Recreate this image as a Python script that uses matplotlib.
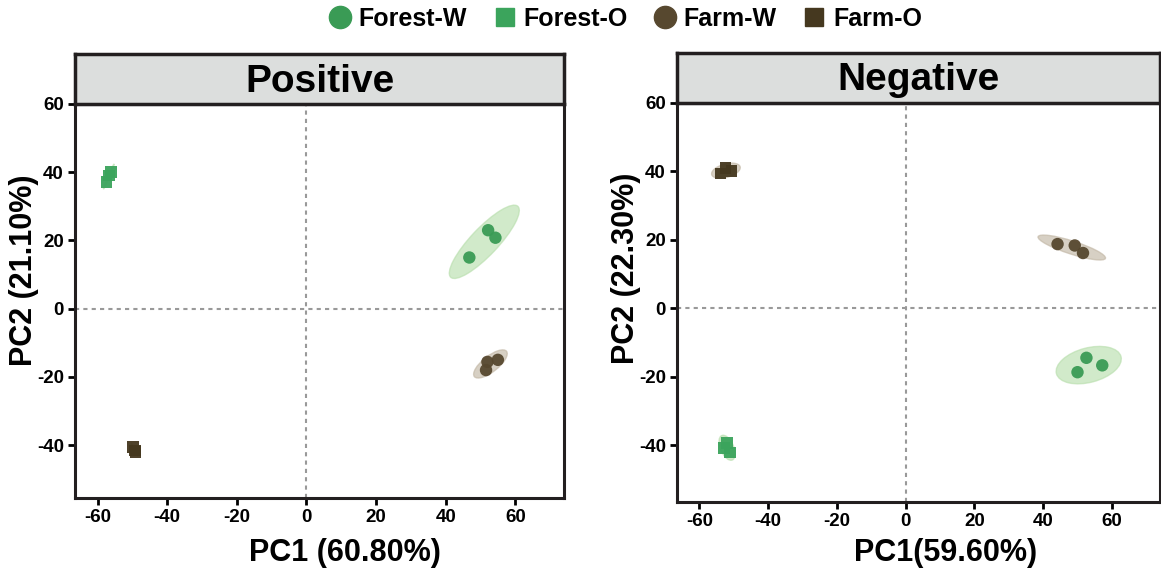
import numpy as np
import matplotlib.pyplot as plt
from matplotlib.patches import Ellipse
from matplotlib.lines import Line2D

plt.rcParams['font.family'] = ['Liberation Sans', 'DejaVu Sans']
plt.rcParams['font.weight'] = 'bold'
plt.rcParams['axes.unicode_minus'] = False

groups = ["Forest-W", "Forest-O", "Farm-W", "Farm-O"]
markers = ["o", "s", "o", "s"]
colors = ["#3a9b55", "#3ba45c", "#57482f", "#45381f"]
fill_colors = ["#b9dfae", "#b9dfae", "#c2b7a5", "#c2b7a5"]

# PCA scores (PC1, PC2), three samples per group
pos_x = {"Forest-W": [46.8, 52.2, 54.3],
         "Forest-O": [-57.4, -56.8, -56.2],
         "Farm-W": [52.0, 51.6, 55.0],
         "Farm-O": [-49.8, -49.3, -49.1]}
pos_y = {"Forest-W": [15.0, 23.0, 20.8],
         "Forest-O": [37.2, 39.0, 40.0],
         "Farm-W": [-15.6, -18.0, -15.0],
         "Farm-O": [-40.6, -41.6, -42.0]}
neg_x = {"Forest-W": [52.6, 57.2, 50.0],
         "Forest-O": [-52.0, -52.8, -51.0],
         "Farm-W": [44.2, 49.2, 51.6],
         "Farm-O": [-53.8, -50.6, -52.4]}
neg_y = {"Forest-W": [-14.4, -16.6, -18.6],
         "Forest-O": [-39.2, -40.8, -42.0],
         "Farm-W": [18.8, 18.4, 16.2],
         "Farm-O": [39.4, 40.2, 41.1]}

panels = ["Positive", "Negative"]
xlabels = ["PC1 (60.80%)", "PC1(59.60%)"]
ylabels = ["PC2 (21.10%)", "PC2 (22.30%)"]
ticks = [-60, -40, -20, 0, 20, 40, 60]
yticks = [-40, -20, 0, 20, 40, 60]


def conf_ellipse(ax, x, y, n_std, fc):
    x = np.asarray(x)
    y = np.asarray(y)
    cov = np.cov(x, y)
    vals, vecs = np.linalg.eigh(cov)
    order = vals.argsort()[::-1]
    vals, vecs = vals[order], vecs[:, order]
    angle = np.degrees(np.arctan2(vecs[1, 0], vecs[0, 0]))
    w, h = 2 * n_std * np.sqrt(vals)
    e = Ellipse((x.mean(), y.mean()), w, h, angle=angle, facecolor=fc,
                edgecolor=fc, alpha=0.65, lw=1, zorder=2)
    ax.add_patch(e)


fig = plt.figure(figsize=(11.61, 5.77), dpi=100)
W, H = 1161, 577
boxes = [(75, 564, 104, 498, 54), (677, 1160, 103, 502, 53)]
data = [(pos_x, pos_y), (neg_x, neg_y)]
# label anchors in pixels: y label right edge / x label top edge
ylab_pos = [(39, 270), (641, 268)]
xlab_pos = [(345, 538), (946, 538)]

for i in range(2):
    l, r, t, b, ht = boxes[i]
    ax = fig.add_axes([l / W, 1 - b / H, (r - l) / W, (b - t) / H])
    hx = fig.add_axes([l / W, 1 - t / H, (r - l) / W, (t - ht) / H])
    hx.set_facecolor("#dcdedd")
    hx.set_xticks([])
    hx.set_yticks([])
    for s in hx.spines.values():
        s.set_linewidth(2.5)
        s.set_color("#231f20")
    hx.text(0.5, 0.45, panels[i], ha="center", va="center", fontsize=28,
            fontweight="bold", transform=hx.transAxes)

    xs, ys = data[i]
    for g, m, c, fc in zip(groups, markers, colors, fill_colors):
        conf_ellipse(ax, xs[g], ys[g], 2.6, fc)
        ax.scatter(xs[g], ys[g], marker=m, s=80 if m == "o" else 70,
                   color=c, edgecolors="none", alpha=0.95, zorder=3)

    ax.axhline(0, color="#999999", ls=(0, (2, 2)), lw=1.5, zorder=1)
    ax.axvline(0, color="#999999", ls=(0, (2, 2)), lw=1.5, zorder=1)
    ax.set_xlim(-66.5, 74)
    ax.set_ylim(-55.5 if i == 0 else -56.5, 60)
    ax.set_xticks(ticks)
    ax.set_yticks(yticks)
    ax.tick_params(direction="out", length=5, width=2, labelsize=13.5,
                   pad=3)
    for s in ax.spines.values():
        s.set_linewidth(2.2)
        s.set_color("#231f20")
    ax.set_xlabel(xlabels[i], fontsize=22, fontweight="bold")
    ax.set_ylabel(ylabels[i], fontsize=22, fontweight="bold")
    ax.xaxis.set_label_coords((xlab_pos[i][0] - l) / (r - l),
                              (b - xlab_pos[i][1]) / (b - t))
    ax.yaxis.set_label_coords((ylab_pos[i][0] - l) / (r - l),
                              (b - ylab_pos[i][1]) / (b - t))

handles = [Line2D([], [], marker=m, color=c, ls="none",
                  markersize=16 if m == "o" else 13)
           for m, c in zip(markers, colors)]
fig.legend(handles, groups, loc="center", bbox_to_anchor=(0.537, 0.967),
           ncol=4, frameon=False, fontsize=18, handletextpad=0.15,
           columnspacing=0.9, borderpad=0, handlelength=1.2)

fig.savefig("out.png", dpi=100)
